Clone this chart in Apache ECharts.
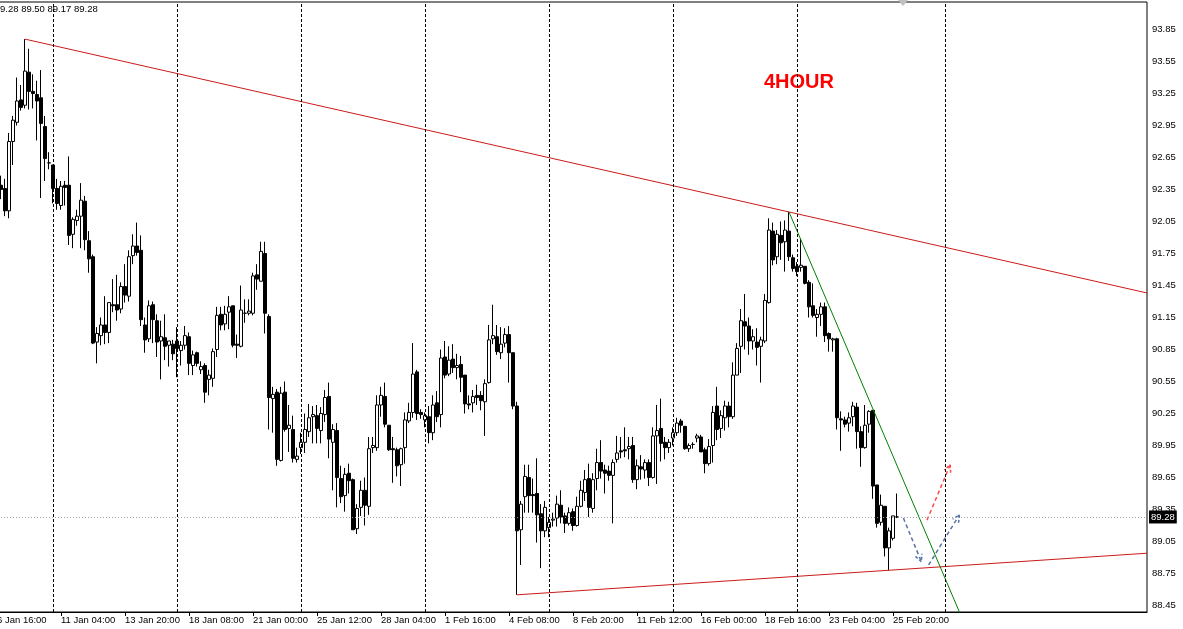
<!DOCTYPE html>
<html><head><meta charset="utf-8">
<script src="https://cdn.jsdelivr.net/npm/echarts@6/dist/echarts.min.js"></script>
<style>html,body{margin:0;padding:0;background:#fff;overflow:hidden;width:1183px;height:629px;}
#c{position:absolute;left:-6px;top:0;width:1189px;height:629px;}</style>
</head><body><div id="c"></div>
<script>
// ---- data (index 0 = 6 Jan 16:00 bar, H4 bars) ----
const opens = [null,
92.39,92.36,92.15,92.80,92.98,93.19,93.14,93.45,93.27,93.24,93.21,92.94,92.60,92.58,92.36,92.20,92.39,92.39,91.93,92.06,
92.10,92.24,91.87,91.72,90.92,90.98,91.08,91.01,91.27,91.27,91.23,91.44,91.35,91.73,91.82,91.78,91.08,90.95,91.27,91.12,
90.93,90.96,90.89,90.90,90.93,90.84,90.89,90.97,90.70,90.82,90.66,90.70,90.57,90.58,90.85,91.18,91.09,91.20,91.26,90.90,
90.88,91.19,91.19,91.19,91.55,91.49,91.75,91.16,90.39,90.45,89.81,90.45,90.11,90.10,89.82,89.93,89.98,90.08,90.22,90.23,
90.09,90.24,90.41,89.98,90.09,89.64,89.48,89.69,89.63,89.17,89.37,89.53,89.38,89.93,89.93,90.33,90.41,90.14,89.92,89.91,
89.77,89.93,90.18,90.26,90.64,90.26,90.19,90.22,90.07,90.35,90.24,90.78,90.62,90.76,90.68,90.71,90.61,90.34,90.35,90.42,
90.42,90.36,90.54,90.95,90.97,90.82,90.91,90.99,90.82,90.32,89.16,89.47,89.65,89.49,89.50,89.31,89.15,89.18,89.25,89.27,
89.39,89.29,89.22,89.33,89.20,89.38,89.51,89.64,89.36,89.64,89.79,89.72,89.71,89.67,89.82,89.90,89.91,89.92,89.95,89.63,
89.75,89.72,89.79,89.65,90.04,90.11,89.98,89.93,90.02,90.07,90.18,90.13,89.92,89.96,90.02,90.03,89.91,89.78,89.95,90.32,
90.11,90.21,90.32,90.22,90.61,90.88,91.11,91.07,90.93,90.92,90.88,90.93,91.29,91.96,91.72,91.92,91.86,91.96,91.71,91.63,
91.62,91.63,91.48,91.26,91.15,91.18,91.25,91.00,90.94,90.95,90.20,90.19,90.16,90.22,90.31,90.08,89.93,90.15,90.28,89.58,
89.23,89.38,88.99,89.08,89.28];
const highs = [null,
92.48,92.45,92.88,93.04,93.40,93.33,93.76,93.67,93.43,93.37,93.47,93.04,92.70,92.58,92.45,92.43,92.43,92.66,92.09,92.16,
92.41,92.29,91.96,91.74,91.06,91.15,91.35,91.29,91.51,91.55,91.48,91.65,91.78,91.93,92.04,91.92,91.15,91.31,91.30,91.18,
91.12,91.18,90.93,90.94,91.06,90.93,91.07,91.01,90.84,90.83,90.74,90.72,90.66,90.86,91.25,91.25,91.26,91.35,91.26,90.99,
91.45,91.32,91.32,91.57,91.65,91.86,91.86,91.18,90.50,90.48,90.50,90.55,90.33,90.23,89.93,90.07,90.25,90.34,90.32,90.33,
90.31,90.47,90.54,90.15,90.16,89.76,89.74,89.78,89.64,89.40,89.62,89.65,90.03,90.03,90.42,90.50,90.54,90.14,90.03,89.93,
89.93,90.26,90.35,90.91,90.66,90.29,90.26,90.32,90.42,90.46,90.85,90.93,90.88,90.90,90.81,90.79,90.61,90.42,90.47,90.52,
90.46,90.57,91.08,91.27,91.08,91.06,91.05,91.07,90.82,90.36,89.43,89.77,89.77,89.64,89.83,89.40,89.43,89.28,89.32,89.48,
89.53,89.32,89.37,89.36,89.47,89.62,89.72,89.78,89.69,89.92,90.00,89.77,89.76,89.82,90.04,90.03,90.12,90.03,90.03,89.82,
89.86,89.82,89.82,90.12,90.33,90.39,90.03,90.01,90.12,90.21,90.20,90.13,89.97,89.98,90.06,90.05,89.93,90.01,90.32,90.50,
90.28,90.37,90.36,90.73,90.91,91.23,91.37,91.15,91.04,91.05,90.97,91.37,92.08,92.04,91.97,92.05,92.06,92.14,91.74,91.67,
91.89,91.63,91.50,91.47,91.23,91.29,91.29,91.01,90.96,90.96,90.27,90.22,90.26,90.36,90.35,90.13,90.33,90.28,90.28,89.58,
89.49,89.38,89.18,89.29,89.50];
const lows = [null,
92.26,92.10,92.08,92.58,92.95,93.09,93.11,93.10,93.11,92.81,92.27,92.43,92.54,92.22,92.16,92.16,92.20,91.83,91.80,92.01,
91.80,91.78,91.57,90.90,90.72,90.89,90.90,90.91,91.20,91.12,91.19,91.29,91.30,91.65,91.73,91.07,90.82,90.92,90.91,90.78,
90.57,90.75,90.69,90.75,90.59,90.70,90.85,90.61,90.61,90.69,90.62,90.35,90.42,90.50,90.78,91.03,91.03,91.04,90.87,90.77,
90.87,91.10,91.17,91.17,91.41,91.49,91.00,90.10,90.07,89.76,89.80,90.08,89.89,89.79,89.79,89.87,89.88,90.03,89.97,89.97,
89.97,90.17,89.83,89.53,89.37,89.41,89.33,89.50,89.16,89.12,89.29,89.20,89.30,89.88,89.90,90.22,90.12,89.90,89.60,89.66,
89.57,89.78,90.16,90.21,90.19,90.20,90.12,89.97,90.00,90.17,90.12,90.58,90.60,90.63,90.57,90.45,90.25,90.29,90.26,90.33,
90.28,90.04,90.53,90.90,90.80,90.76,90.87,90.54,90.29,88.55,88.83,89.32,89.32,89.32,89.04,88.80,89.09,89.09,89.19,89.19,
89.22,89.13,89.20,89.15,89.19,89.37,89.43,89.28,89.32,89.53,89.64,89.50,89.62,89.22,89.79,89.83,89.84,89.82,89.60,89.54,
89.63,89.64,89.57,89.64,89.59,89.80,89.82,89.88,89.95,90.04,90.07,89.91,89.89,89.92,89.98,89.89,89.69,89.76,89.79,90.00,
90.02,90.09,90.12,90.20,90.61,90.63,90.85,90.80,90.85,90.70,90.54,90.91,91.28,91.64,91.65,91.69,91.58,91.68,91.58,91.54,
91.58,91.46,91.15,91.15,90.97,91.07,90.92,90.83,90.83,90.10,89.90,90.12,90.08,90.13,89.92,89.75,89.92,90.07,89.45,89.18,
89.20,88.91,88.78,89.06,89.27];
const closes = [null,
92.35,92.15,92.80,93.00,93.18,93.12,93.46,93.27,93.25,93.18,92.97,92.64,92.60,92.36,92.22,92.38,92.37,91.92,92.07,92.10,
92.25,91.88,91.70,90.91,91.00,91.08,91.01,91.29,91.26,91.22,91.44,91.36,91.72,91.82,91.76,91.13,90.94,91.26,91.13,90.92,
90.97,90.88,90.93,90.81,90.86,90.89,90.98,90.72,90.80,90.72,90.69,90.45,90.61,90.83,91.17,91.08,91.18,91.25,90.89,90.89,
91.22,91.19,91.21,91.54,91.51,91.77,91.19,90.40,90.43,89.82,90.44,90.10,90.14,89.83,89.85,89.98,90.10,90.21,90.24,90.11,
90.25,90.40,90.01,90.10,89.65,89.47,89.68,89.62,89.16,89.36,89.53,89.39,89.92,89.95,90.33,90.42,90.15,89.91,89.91,89.76,
89.92,90.19,90.26,90.62,90.25,90.24,90.23,90.07,90.33,90.22,90.77,90.61,90.75,90.68,90.70,90.59,90.34,90.33,90.41,90.40,
90.37,90.53,90.94,90.98,90.83,90.90,90.99,90.82,90.32,89.15,89.40,89.66,89.48,89.48,89.30,89.15,89.37,89.23,89.26,89.40,
89.28,89.22,89.32,89.20,89.38,89.53,89.63,89.37,89.63,89.79,89.71,89.69,89.67,89.79,89.88,89.89,89.90,89.94,89.63,89.76,
89.73,89.79,89.65,90.04,90.09,89.97,89.93,89.98,90.07,90.16,90.14,89.92,89.95,89.96,90.04,89.89,89.78,89.94,90.26,90.10,
90.23,90.32,90.22,90.61,90.86,91.12,91.07,90.93,90.97,90.87,90.94,91.31,91.97,91.69,91.93,91.85,91.97,91.72,91.61,91.58,
91.64,91.47,91.25,91.17,91.18,91.25,90.98,90.95,90.95,90.21,90.19,90.15,90.21,90.32,90.08,89.93,90.14,90.27,89.57,89.22,
89.39,88.99,89.15,89.29,89.28];

const slotCount = 288;                       // bars + empty future slots
const tickLabelIndex = [0,16,32,48,64,80,96,112,128,144,160,176,192,208,224];
const tickLabelText = ["6 Jan 16:00","11 Jan 04:00","13 Jan 20:00","18 Jan 08:00","21 Jan 00:00","25 Jan 12:00",
  "28 Jan 04:00","1 Feb 16:00","4 Feb 08:00","8 Feb 20:00","11 Feb 12:00","16 Feb 00:00","18 Feb 16:00",
  "23 Feb 04:00","25 Feb 20:00"];
const priceTicks = [88.45,88.75,89.05,89.35,89.65,89.95,90.25,90.55,90.85,91.15,91.45,91.75,92.05,92.35,92.65,92.95,93.25,93.55,93.85];
const weekLineIndex = [14,45,76,107,138,169,200,237];
const upperTrend = [[7,93.76],[287.5,91.38]];
const lowerTrend = [[130,88.55],[287.5,88.94]];
const greenTrend = [[198,92.14],[241.5,88.31]];
const arrowLines = [[226.6,89.27,231.1,88.86],[232.9,88.83,240.6,89.30],[232.5,89.25,238.3,89.77]];
const arrowColors = ['#5874a6','#5874a6','#ff4a4a'];
const lastPrice = 89.28;
const headerText = '9.28 89.50 89.17 89.28';
const titleText = '4HOUR';

const categories = Array.from({length: slotCount}, (_, i) => String(i));
const candles = opens.map((o, i) => o == null ? '-' : [o, closes[i], lows[i], highs[i]]);
const FONT = 'Liberation Sans';
const SHIFT = 6; // container is shifted 6px left of the page

const chart = echarts.init(document.getElementById('c'), null, {renderer: 'canvas'});
chart.setOption({
  animation: false,
  backgroundColor: '#ffffff',
  grid: {left: 0, right: 36, top: 2, bottom: 17, show: true, borderColor: '#000', borderWidth: 1},
  xAxis: [{
    type: 'category', data: categories, boundaryGap: true,
    axisLine: {lineStyle: {color: '#000', width: 1}},
    axisTick: {show: true, alignWithLabel: true, length: 4, interval: (i) => tickLabelIndex.includes(i), lineStyle: {color: '#000'}},
    axisLabel: {interval: (i) => tickLabelIndex.includes(i),
      formatter: (v) => tickLabelText[tickLabelIndex.indexOf(Number(v))] || '',
      align: 'left', margin: 3, color: '#000', fontSize: 9.5, fontFamily: FONT},
    splitLine: {show: false}
  }, {
    type: 'value', min: -0.5, max: slotCount - 0.5, show: false
  }],
  yAxis: {
    type: 'value', position: 'right', min: 88.389, max: 94.108,
    axisLine: {show: true, lineStyle: {color: '#000'}},
    axisTick: {show: true, length: 3, customValues: priceTicks, lineStyle: {color: '#000'}},
    axisLabel: {customValues: priceTicks, formatter: (v) => v.toFixed(2), margin: 5, color: '#000', fontSize: 9.5, fontFamily: FONT},
    splitLine: {show: false}
  },
  graphic: [
    {type: 'text', left: SHIFT, top: 4, style: {text: headerText, fill: '#000', font: '9.5px "Liberation Sans"'}},
    {type: 'text', left: 764 + SHIFT, top: 72, style: {text: titleText, fill: '#ff0000', font: 'bold 20px "Liberation Sans"'}},
    {type: 'polygon', shape: {points: [[898 + SHIFT, 0], [908 + SHIFT, 0], [903 + SHIFT, 6]]}, style: {fill: '#c0c0c0'}}
  ],
  series: [
    {
      type: 'candlestick', xAxisIndex: 0, data: candles, barWidth: 3,
      itemStyle: {color: '#ffffff', color0: '#000000', borderColor: '#000000', borderColor0: '#000000', borderWidth: 1},
      markLine: {
        silent: true, symbol: ['none', 'none'],
        data: [{yAxis: lastPrice}],
        lineStyle: {color: '#a0a0a0', type: [1, 2], width: 1},
        label: {show: true, position: 'end', formatter: lastPrice.toFixed(2), backgroundColor: '#000', color: '#fff',
          padding: [2, 2, 1, 2], distance: 2, fontSize: 9.5, fontFamily: FONT}
      }
    },
    {
      type: 'line', xAxisIndex: 1, data: upperTrend, symbol: 'none', silent: true,
      lineStyle: {color: '#cc1a1a', width: 1},
      markLine: {
        silent: true, symbol: ['none', 'none'], label: {show: false},
        lineStyle: {color: '#000', type: [3, 2], width: 1},
        data: weekLineIndex.map(v => ({xAxis: v}))
      }
    },
    {type: 'line', xAxisIndex: 1, data: lowerTrend, symbol: 'none', silent: true, lineStyle: {color: '#cc1a1a', width: 1}},
    {type: 'line', xAxisIndex: 1, data: greenTrend, symbol: 'none', silent: true, clip: true, lineStyle: {color: '#008000', width: 1}},
    {
      type: 'custom', xAxisIndex: 1, data: arrowLines, silent: true,
      encode: {x: [0, 2], y: [1, 3]},
      renderItem: function (params, api) {
        const p1 = api.coord([api.value(0), api.value(1)]);
        const p2 = api.coord([api.value(2), api.value(3)]);
        const color = arrowColors[params.dataIndex];
        const ang = Math.atan2(p2[1] - p1[1], p2[0] - p1[0]);
        const L = 8, a = 0.45;
        const h1 = [p2[0] - L * Math.cos(ang - a), p2[1] - L * Math.sin(ang - a)];
        const h2 = [p2[0] - L * Math.cos(ang + a), p2[1] - L * Math.sin(ang + a)];
        return {type: 'group', children: [
          {type: 'polyline', shape: {points: [p1, p2]}, style: {stroke: color, lineWidth: 1.5, lineDash: [4, 3], fill: null}},
          {type: 'polyline', shape: {points: [h1, p2, h2]}, style: {stroke: color, lineWidth: 1.5, lineDash: [3, 2], fill: null}}
        ]};
      }
    }
  ]
});
</script></body></html>
